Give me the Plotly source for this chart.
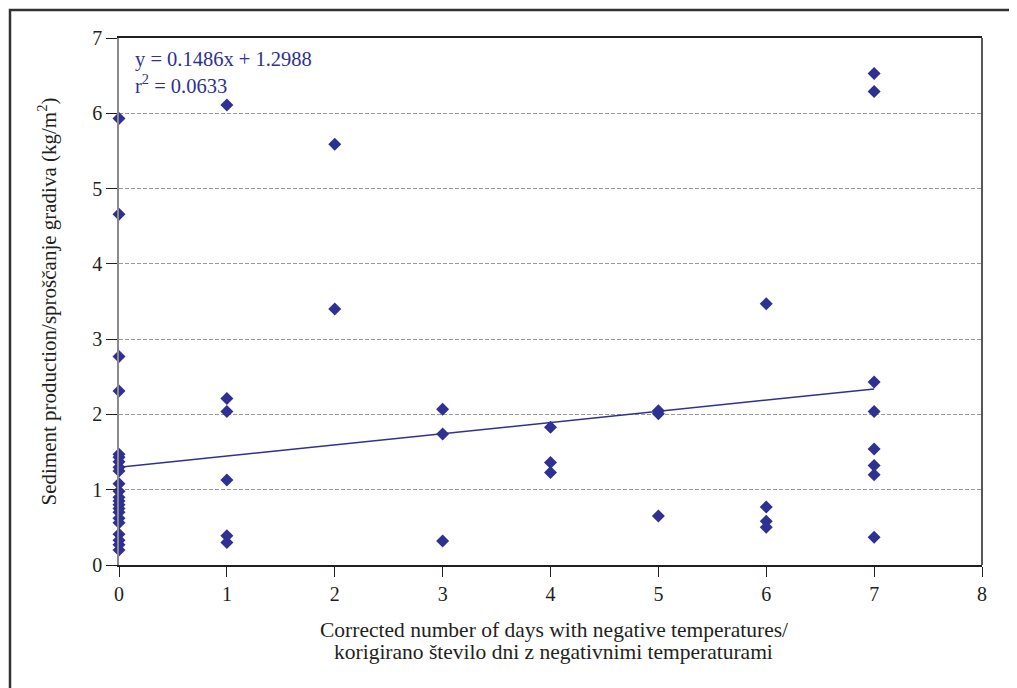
import plotly.graph_objects as go

# days with negative temperatures (corrected) vs sediment production
days = [0] * 22 + [1] * 6 + [2] * 2 + [3] * 3 + [4] * 3 + [5] * 3 + [6] * 4 + [7] * 8
sediment = [
    5.93, 4.66, 2.77, 2.31, 1.47, 1.43, 1.37, 1.30, 1.25, 1.08, 0.98, 0.90,
    0.85, 0.80, 0.75, 0.70, 0.62, 0.56, 0.41, 0.33, 0.27, 0.20,
    6.11, 2.21, 2.04, 1.13, 0.39, 0.30,
    5.59, 3.40,
    2.07, 1.74, 0.32,
    1.83, 1.36, 1.23,
    2.05, 2.01, 0.65,
    3.47, 0.77, 0.58, 0.50,
    6.53, 6.29, 2.43, 2.04, 1.54, 1.32, 1.20, 0.37,
]

# regression from the chart's equation
slope = 0.1486
intercept = 1.2988
r2 = 0.0633
trend_x = [0, 7]

x_title = ["Corrected number of days with negative temperatures/",
           "korigirano število dni z negativnimi temperaturami"]
y_title = "Sediment production/sproščanje gradiva (kg/m<sup>2</sup>)"

blue = "#2e3192"
serif = "Liberation Serif, Times New Roman, serif"

fig = go.Figure()

fig.add_trace(go.Scatter(
    x=trend_x,
    y=[slope * v + intercept for v in trend_x],
    mode="lines",
    line=dict(color=blue, width=1.5),
    hoverinfo="skip",
))

fig.add_trace(go.Scatter(
    x=days, y=sediment,
    mode="markers",
    marker=dict(symbol="diamond", size=10, color=blue),
    cliponaxis=False,
))

# x title as two annotations so the line spacing is tighter than plotly's default
title_lines = [
    dict(x=0.004, y=-65 / 527, xref="paper", yref="paper", xanchor="center",
         yanchor="middle", showarrow=False, text=t,
         font=dict(family=serif, size=21.5, color="#231f20"))
    for t in x_title
]
title_lines[0]["x"] = 0.504
title_lines[1]["x"] = 0.504
title_lines[1]["y"] = -87 / 527

# page body adds ~8px offset, margins are set so the plot lands where the reference has it
fig.update_layout(
    width=1017, height=688,
    margin=dict(l=111, r=43, t=30, b=131),
    plot_bgcolor="white",
    paper_bgcolor="white",
    showlegend=False,
    font=dict(family=serif, size=20, color="#231f20"),
    xaxis=dict(
        range=[0, 8], dtick=1, showgrid=False, zeroline=False,
        showline=True, linecolor="#231f20", linewidth=1.5, mirror=True,
        ticks="outside", ticklen=10, tickcolor="#231f20",
        tickfont=dict(size=20),
    ),
    yaxis=dict(
        range=[0, 7], dtick=1, zeroline=False,
        showgrid=True, gridcolor="#9a9a9a", griddash="4px,2px", gridwidth=1,
        showline=True, linecolor="#8a8a8a", linewidth=1.5,
        ticks="outside", ticklen=11, tickcolor="#231f20",
        tickfont=dict(size=20),
        title=dict(text=y_title, font=dict(size=21), standoff=30),
    ),
    annotations=[dict(
        x=0.016, y=0.985, xref="paper", yref="paper",
        xanchor="left", yanchor="top", align="left", showarrow=False,
        text=f"y = {slope}x + {intercept}<br>r<sup>2</sup> = {r2}",
        font=dict(family=serif, size=20.5, color=blue),
    )] + title_lines,
    shapes=[
        # right border of the plot area
        dict(type="line", xref="paper", yref="paper", x0=1, x1=1, y0=0, y1=1,
             line=dict(color="#231f20", width=1.5)),
        # outer frame around the figure
        dict(type="rect", xref="paper", yref="paper",
             x0=-109 / 863, x1=1 + 36 / 863, y0=-0.4, y1=1 + 28 / 527,
             line=dict(color="#333333", width=2.5)),
    ],
)

fig.write_html("out.html")
